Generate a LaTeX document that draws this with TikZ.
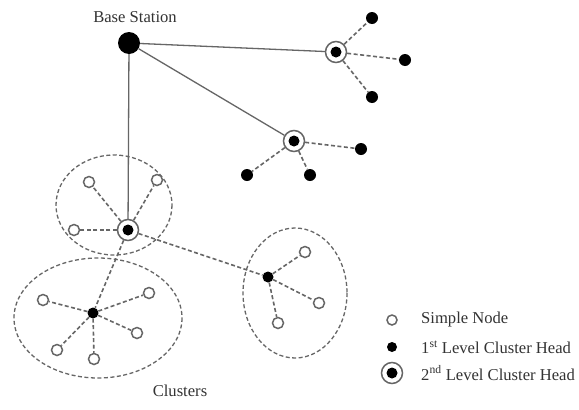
\documentclass[tikz,border=0pt]{standalone}
\usepackage{fontspec}
\setmainfont{Liberation Serif}
\begin{document}
\begin{tikzpicture}[x=1pt,y=-1pt,
  lbl/.style={font=\fontsize{16.6}{18}\selectfont, text=black!80, inner sep=0},
  simple/.style={circle, draw=black!60, line width=1.5pt, fill=white, minimum size=11pt, inner sep=0},
  head1/.style={circle, fill=black, minimum size=11pt, inner sep=0},
  head2/.style={circle, draw=black!60, line width=1.5pt, fill=white, minimum size=21pt, inner sep=0,
     path picture={\fill[black] (path picture bounding box.center) circle (5.5pt);}},
  base/.style={circle, fill=black, minimum size=22pt, inner sep=0},
  solidlink/.style={draw=black!60, line width=1.3pt},
  dlink/.style={draw=black!60, line width=1.6pt, dash pattern=on 4pt off 2.5pt},
  clus/.style={draw=black!60, line width=1.3pt, dash pattern=on 4pt off 2.5pt}
]
\useasboundingbox (0,0) rectangle (579,410);
\fill[white] (0,0) rectangle (579,410);

% clusters
\draw[clus] (114,205) ellipse [x radius=58, y radius=50];
\draw[clus] (98,318) ellipse [x radius=84, y radius=60];
\draw[clus] (295,293) ellipse [x radius=52, y radius=65];

% base station
\node[base] (bs) at (129,43) {};
\node[lbl] (bslbl) at (135,17) {Base Station};

% second-level heads
\node[head2] (h2a) at (336,52) {};
\node[head2] (h2b) at (294,141) {};
\node[head2] (h2c) at (128,230) {};

% first-level heads
\node[head1] (h1a) at (93,313) {};
\node[head1] (h1b) at (268,277) {};

% black nodes near top-right heads
\node[head1, minimum size=12pt] (ta1) at (372,18) {};
\node[head1, minimum size=12pt] (ta2) at (405,60) {};
\node[head1, minimum size=12pt] (ta3) at (372,97) {};
\node[head1, minimum size=12pt] (tb1) at (247,175) {};
\node[head1, minimum size=12pt] (tb2) at (361,149) {};
\node[head1, minimum size=12pt] (tb3) at (310,175) {};

% simple nodes
\node[simple] (c1) at (89,182) {};
\node[simple] (c2) at (157,180) {};
\node[simple] (c3) at (74,230) {};
\node[simple] (d1) at (43,300) {};
\node[simple] (d2) at (149,293) {};
\node[simple] (d3) at (137,333) {};
\node[simple] (d4) at (57,350) {};
\node[simple] (d5) at (94,359) {};
\node[simple] (e1) at (305,252) {};
\node[simple] (e2) at (319,303) {};
\node[simple] (e3) at (278,323) {};

% solid links
\draw[solidlink] (bs) -- (h2a);
\draw[solidlink] (bs) -- (h2b);
\draw[solidlink] (bs) -- (h2c);

% dashed links
\foreach \t in {ta1,ta2,ta3} \draw[dlink] (h2a) -- (\t);
\foreach \t in {tb1,tb2,tb3} \draw[dlink] (h2b) -- (\t);
\foreach \t in {c1,c2,c3,h1a,h1b} \draw[dlink] (h2c) -- (\t);
\foreach \t in {d1,d2,d3,d4,d5} \draw[dlink] (h1a) -- (\t);
\foreach \t in {e1,e2,e3} \draw[dlink] (h1b) -- (\t);

\node[lbl] (clbl) at (180,391) {Clusters};

% legend
\node[simple, minimum size=10pt] (lg1) at (392,320) {};
\node[head1, minimum size=10pt] (lg2) at (392,347) {};
\node[head2] (lg3) at (392,373) {};
\node[lbl, anchor=west] (lt1) at (421,320) {Simple Node};
\node[lbl, anchor=west] (lt2) at (421,347) {1\textsuperscript{st} Level Cluster Head};
\node[lbl, anchor=west] (lt3) at (421,373) {2\textsuperscript{nd} Level Cluster Head};
\end{tikzpicture}
\end{document}
